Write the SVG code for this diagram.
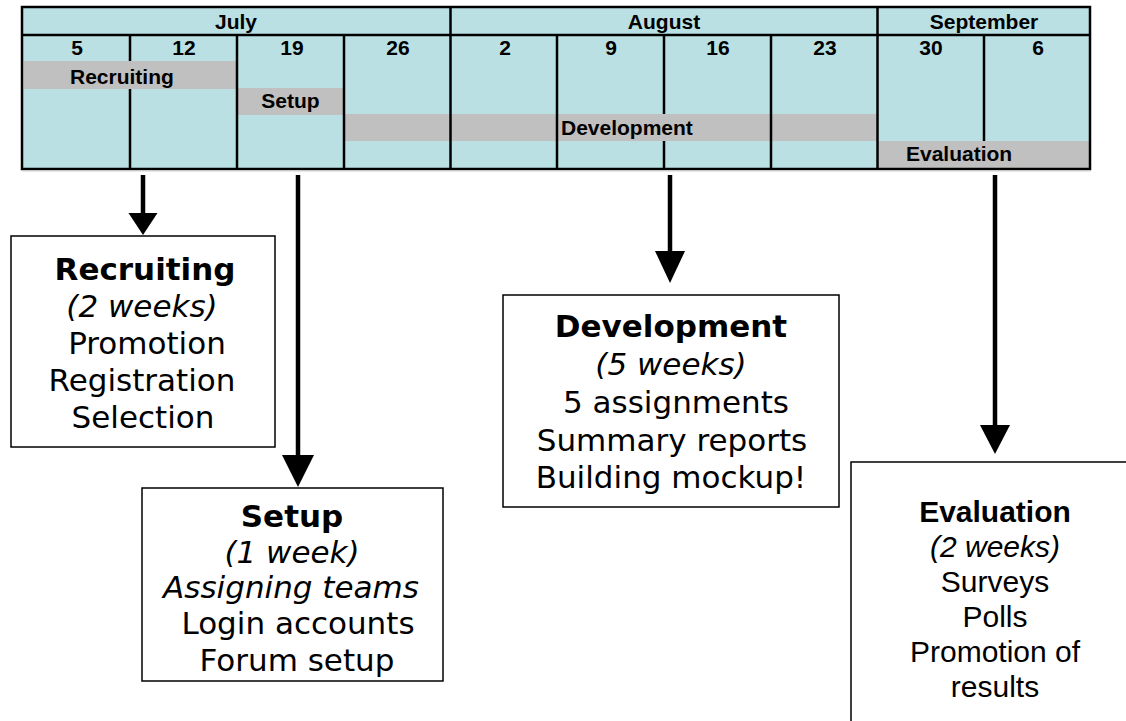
<svg xmlns="http://www.w3.org/2000/svg" width="1126" height="721" viewBox="0 0 1126 721">
<style>
.cell{fill:#BAE0E4}
.bar{fill:#C0C0C0}
.grid{stroke:#000;stroke-width:2.5;fill:none}
.tt{font-family:"Liberation Sans",Arial,sans-serif;font-weight:bold;font-size:21px;fill:#000}
.c{text-anchor:middle}
.box{fill:#fff;stroke:#000;stroke-width:1.5}
.bt{font-family:"DejaVu Sans",Verdana,sans-serif;font-size:31px;fill:#000;text-anchor:middle}
.at{font-family:"Liberation Sans",Arial,sans-serif;font-size:30px;fill:#000;text-anchor:middle}
.b{font-weight:bold}
.i{font-style:italic}
.shaft{stroke:#000;stroke-width:4.5;fill:none}
.head{fill:#000}
</style>
<rect width="1126" height="721" fill="#fff"/>
<g id="timeline">
  <rect class="cell" x="22" y="7" width="1068" height="162"/>
  <rect class="bar" x="24" y="61" width="213" height="28"/>
  <rect class="bar" x="238" y="88" width="105" height="27"/>
  <rect class="bar" x="345" y="114" width="532" height="27"/>
  <rect class="bar" x="878" y="141" width="211" height="27"/>
  <line class="grid" x1="22" y1="35" x2="1090" y2="35" stroke-width="3"/>
  <line class="grid" x1="130" y1="35" x2="130" y2="61"/>
  <line class="grid" x1="130" y1="89" x2="130" y2="169"/>
  <line class="grid" x1="237" y1="35" x2="237" y2="169"/>
  <line class="grid" x1="344" y1="35" x2="344" y2="169"/>
  <line class="grid" x1="450.5" y1="7" x2="450.5" y2="169"/>
  <line class="grid" x1="557" y1="35" x2="557" y2="169"/>
  <line class="grid" x1="664" y1="35" x2="664" y2="114"/>
  <line class="grid" x1="664" y1="141" x2="664" y2="169"/>
  <line class="grid" x1="771" y1="35" x2="771" y2="169"/>
  <line class="grid" x1="877.5" y1="7" x2="877.5" y2="169"/>
  <line class="grid" x1="984" y1="35" x2="984" y2="141"/>
  <rect class="grid" x="22" y="7" width="1068" height="162" stroke-width="3"/>
  <line x1="22" y1="171" x2="1091" y2="171" stroke="#d0d0d0" stroke-width="1"/>
  <text class="tt c" x="236" y="29">July</text>
  <text class="tt c" x="664" y="29">August</text>
  <text class="tt c" x="984" y="29">September</text>
  <text class="tt c" x="77" y="55">5</text>
  <text class="tt c" x="184" y="55">12</text>
  <text class="tt c" x="292" y="55">19</text>
  <text class="tt c" x="398" y="55">26</text>
  <text class="tt c" x="505" y="55">2</text>
  <text class="tt c" x="611" y="55">9</text>
  <text class="tt c" x="718" y="55">16</text>
  <text class="tt c" x="825" y="55">23</text>
  <text class="tt c" x="931" y="55">30</text>
  <text class="tt c" x="1038" y="55">6</text>
  <text class="tt" x="70" y="83.5">Recruiting</text>
  <text class="tt c" x="290.5" y="108">Setup</text>
  <text class="tt" x="561" y="135">Development</text>
  <text class="tt" x="906" y="161">Evaluation</text>
</g>
<g id="connectors">
  <line class="shaft" x1="143" y1="175" x2="143" y2="214"/>
  <polygon class="head" points="128.5,213 157.5,213 143,235"/>
  <line class="shaft" x1="298" y1="175" x2="298" y2="456"/>
  <polygon class="head" points="282,455 314,455 298,487"/>
  <line class="shaft" x1="670" y1="175" x2="670" y2="252"/>
  <polygon class="head" points="655,251 685,251 670,283"/>
  <line class="shaft" x1="995" y1="175" x2="995" y2="426"/>
  <polygon class="head" points="980,425 1010,425 995,454"/>
</g>
<g id="recruiting">
  <rect class="box" x="11" y="236" width="264" height="211"/>
  <text class="bt b" x="145" y="280">Recruiting</text>
  <text class="bt i" x="142" y="317">(2 weeks)</text>
  <text class="bt" x="147" y="354">Promotion</text>
  <text class="bt" x="142" y="391">Registration</text>
  <text class="bt" x="143" y="428">Selection</text>
</g>
<g id="setup">
  <rect class="box" x="142" y="488" width="301" height="193"/>
  <text class="bt b" x="292" y="527">Setup</text>
  <text class="bt i" x="292" y="563">(1 week)</text>
  <text class="bt i" x="291" y="598">Assigning teams</text>
  <text class="bt" x="298" y="634">Login accounts</text>
  <text class="bt" x="297" y="671">Forum setup</text>
</g>
<g id="development">
  <rect class="box" x="503" y="295" width="336" height="212"/>
  <text class="bt b" x="671" y="337">Development</text>
  <text class="bt i" x="671" y="375">(5 weeks)</text>
  <text class="bt" x="676" y="413">5 assignments</text>
  <text class="bt" x="672" y="451">Summary reports</text>
  <text class="bt" x="671" y="488">Building mockup!</text>
</g>
<g id="evaluation">
  <rect class="box" x="851" y="462" width="290" height="280"/>
  <text class="at b" x="995" y="522">Evaluation</text>
  <text class="at i" x="995" y="557">(2 weeks)</text>
  <text class="at" x="995" y="592">Surveys</text>
  <text class="at" x="995" y="627">Polls</text>
  <text class="at" x="995" y="662">Promotion of</text>
  <text class="at" x="995" y="697">results</text>
</g>
</svg>
